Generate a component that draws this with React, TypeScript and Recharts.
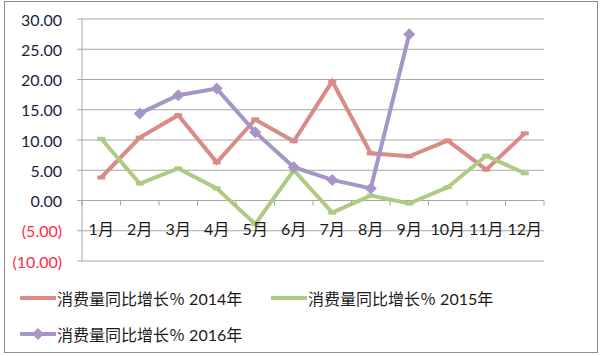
import { LineChart, Line, XAxis, YAxis, CartesianGrid, ReferenceLine } from "recharts";

const months = ["1月", "2月", "3月", "4月", "5月", "6月", "7月", "8月", "9月", "10月", "11月", "12月"];
const growth2014 = [3.8, 10.4, 14.1, 6.3, 13.4, 9.8, 19.7, 7.8, 7.3, 9.9, 5.1, 11.1];
const growth2015 = [10.2, 2.8, 5.3, 2.0, -3.9, 5.0, -2.0, 0.8, -0.5, 2.2, 7.4, 4.5];
const growth2016 = [null, 14.4, 17.4, 18.5, 11.3, 5.5, 3.4, 2.0, 27.5, null, null, null];
const yTicks = [-10, -5, 0, 5, 10, 15, 20, 25, 30];

const seriesNames = ["消费量同比增长％ 2014年", "消费量同比增长％ 2015年", "消费量同比增长％ 2016年"];

const data = months.map((m, i) => ({
  month: m,
  s2014: growth2014[i],
  s2015: growth2015[i],
  s2016: growth2016[i],
}));

const W = 600;
const H = 356;
const plotLeft = 82;
const plotRight = 544;
const plotTop = 19;
const plotBottom = 261;
const band = (plotRight - plotLeft) / months.length;
const zeroOffset = ((plotBottom - plotTop) * (0 - yTicks[0])) / (yTicks[yTicks.length - 1] - yTicks[0]);

const RED = "#d98b88";
const GREEN = "#afcb83";
const PURPLE = "#a596c6";
const GRID = "#a6a6a6";
const FONT = "Lato, 'Noto Sans CJK SC', sans-serif";

const YTick = (props: any) => {
  const { x, y, payload } = props;
  const v = payload.value as number;
  const label = v < 0 ? `(${Math.abs(v).toFixed(2)})` : v.toFixed(2);
  return (
    <text x={x} y={y} textAnchor="end" dominantBaseline="central" fontSize={16} fontFamily={FONT} fill={v < 0 ? "#ff2a4a" : "#1c2340"}>
      {label}
    </text>
  );
};

const XTick = (props: any) => {
  const { x, y, payload, index } = props;
  const y0 = y - zeroOffset;
  return (
    <g>
      <line x1={x - band / 2} x2={x - band / 2} y1={y0} y2={y0 + 5} stroke={GRID} />
      {index === months.length - 1 && <line x1={x + band / 2} x2={x + band / 2} y1={y0} y2={y0 + 5} stroke={GRID} />}
      <text x={x} y={y0 + 28} textAnchor="middle" dominantBaseline="central" fontSize={16} fontFamily={FONT} fill="#1a1a1a">
        {payload.value}
      </text>
    </g>
  );
};

// Excel-style dash marker
const DashDot = (color: string) => (props: any) => {
  const { cx, cy, index } = props;
  if (cx == null || cy == null) return <g key={index} />;
  return <rect key={index} x={cx - 4} y={cy - 2} width={8} height={4} fill={color} />;
};

const Diamond = (props: any) => {
  const { cx, cy, index } = props;
  if (cx == null || cy == null) return <g key={index} />;
  const r = 6;
  return <polygon key={index} points={`${cx},${cy - r} ${cx + r},${cy} ${cx},${cy + r} ${cx - r},${cy}`} fill={PURPLE} />;
};

const LegendItem = ({ color, name, diamond }: { color: string; name: string; diamond?: boolean }) => (
  <div style={{ display: "flex", alignItems: "center", fontFamily: FONT, fontSize: 16, color: "#1a1a1a" }}>
    <svg width={36} height={12} style={{ marginRight: 1 }}>
      <line x1={0} x2={36} y1={6} y2={6} stroke={color} strokeWidth={4} />
      {diamond && <polygon points="18,0 24,6 18,12 12,6" fill={color} />}
    </svg>
    <span>{name}</span>
  </div>
);

export default function App() {
  return (
    <div style={{ position: "absolute", left: 0, top: 0, width: W, height: H, background: "#fff" }}>
      <div style={{ position: "absolute", left: 4, top: 1, width: 592, height: 350, border: "1px solid #8c8c8c" }} />
      <div style={{ position: "absolute", left: 0, top: 0 }}>
        <LineChart
          width={W}
          height={H}
          data={data}
          margin={{ top: plotTop, right: W - plotRight, left: 0, bottom: H - plotBottom - 1 }}
        >
          <CartesianGrid vertical={false} stroke={GRID} />
          <XAxis
            dataKey="month"
            height={1}
            padding={{ left: band / 2, right: band / 2 }}
            axisLine={false}
            tickLine={false}
            tickSize={0}
            tickMargin={0}
            interval={0}
            tick={<XTick />}
          />
          <YAxis
            width={plotLeft}
            domain={[yTicks[0], yTicks[yTicks.length - 1]]}
            ticks={yTicks}
            interval={0}
            axisLine={{ stroke: GRID }}
            tickLine={{ stroke: GRID }}
            tickSize={5}
            tickMargin={15}
            tick={<YTick />}
          />
          <ReferenceLine y={0} stroke={GRID} />
          <Line dataKey="s2014" name={seriesNames[0]} stroke={RED} strokeWidth={4} dot={DashDot(RED)} isAnimationActive={false} />
          <Line dataKey="s2015" name={seriesNames[1]} stroke={GREEN} strokeWidth={4} dot={DashDot(GREEN)} isAnimationActive={false} />
          <Line dataKey="s2016" name={seriesNames[2]} stroke={PURPLE} strokeWidth={4} dot={<Diamond />} isAnimationActive={false} />
        </LineChart>
      </div>
      <div style={{ position: "absolute", left: 20, top: 286 }}>
        <LegendItem color={RED} name={seriesNames[0]} />
      </div>
      <div style={{ position: "absolute", left: 271, top: 286 }}>
        <LegendItem color={GREEN} name={seriesNames[1]} />
      </div>
      <div style={{ position: "absolute", left: 20, top: 322 }}>
        <LegendItem color={PURPLE} name={seriesNames[2]} diamond />
      </div>
    </div>
  );
}
